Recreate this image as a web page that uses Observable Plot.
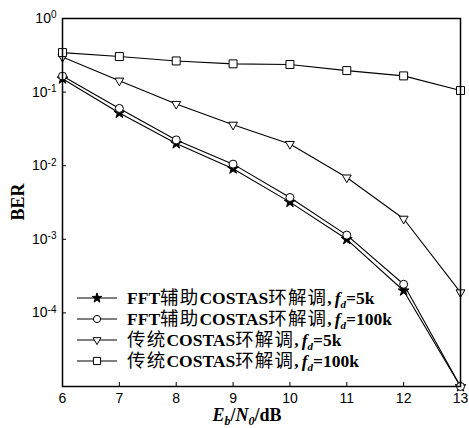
<!DOCTYPE html>
<html>
<head>
<meta charset="utf-8">
<script src="https://cdn.jsdelivr.net/npm/d3@7"></script>
<script src="https://cdn.jsdelivr.net/npm/@observablehq/plot@0.6"></script>
<style>
  html, body { margin: 0; padding: 0; background: #fff; }
  #chart svg { display: block; }
</style>
</head>
<body>
<div id="chart"></div>
<script>
// Eb/N0 (dB) sample points
const snr = [6, 7, 8, 9, 10, 11, 12, 13];

// Bit error rate for each demodulator
const fftFd5k     = [0.152, 0.052, 0.020, 0.0091, 0.0032, 0.0010, 0.00020, 1e-5];
const fftFd100k   = [0.165, 0.060, 0.0224, 0.0105, 0.0037, 0.00114, 0.000245, 1e-5];
const costasFd5k  = [0.300, 0.143, 0.069, 0.036, 0.0197, 0.0069, 0.0019, 0.00019];
const costasFd100k = [0.344, 0.304, 0.265, 0.242, 0.237, 0.196, 0.166, 0.105];

const seriesNames = ["fft5k", "fft100k", "costas5k", "costas100k"];
const seriesValues = [fftFd5k, fftFd100k, costasFd5k, costasFd100k];
const seriesSymbols = ["star", "circle", "triangle", "square"];
const seriesFills = ["black", "white", "white", "white"];
const seriesRadius = [3.4, 4, 3.3, 4.5];
const seriesRotate = [0, 0, 180, 0];
const legendPrefix = ["FFT辅助COSTAS环解调,", "FFT辅助COSTAS环解调,", "传统COSTAS环解调,", "传统COSTAS环解调,"];
const legendSuffix = ["=5k", "=100k", "=5k", "=100k"];

const yTicks = [1, 0.1, 0.01, 0.001, 0.0001];
const xTicks = [6, 7, 8, 9, 10, 11, 12, 13];

const rows = [];
seriesNames.forEach((name, i) => {
  snr.forEach((s, j) => rows.push({series: name, idx: i, snr: s, ber: seriesValues[i][j]}));
});

const serif = "'Liberation Serif', 'Noto Sans CJK SC', serif";
const sans = "'Liberation Sans', Arial, sans-serif";

const marks = [
  Plot.line(rows, {x: "snr", y: "ber", z: "series", stroke: "black", strokeWidth: 1.1})
];
seriesNames.forEach((name, i) => {
  marks.push(Plot.dot(rows.filter(d => d.series === name), {
    x: "snr", y: "ber",
    symbol: seriesSymbols[i],
    r: seriesRadius[i],
    rotate: seriesRotate[i],
    fill: seriesFills[i],
    stroke: "black",
    strokeWidth: 1
  }));
});

const chart = Plot.plot({
  width: 469,
  height: 428,
  marginLeft: 62,
  marginRight: 9,
  marginTop: 18,
  marginBottom: 42,
  style: {fontFamily: sans, fontSize: "14px", color: "black", background: "white"},
  x: {domain: [6, 13]},
  y: {type: "log", domain: [1e-5, 1]},
  marks: [
    ...marks,
    Plot.axisY({ticks: yTicks, tickSize: -4, tickFormat: () => "", label: null}),
    Plot.axisY({ticks: yTicks, tickSize: 0, tickPadding: 6, label: null,
      tickFormat: d => "10^" + Math.round(Math.log10(d)), fontSize: 14}),
    Plot.axisX({ticks: xTicks, tickSize: -4, tickFormat: () => "", label: null}),
    Plot.axisX({ticks: xTicks, tickSize: 0, tickPadding: 7, label: null,
      tickFormat: d => String(d), fontSize: 14}),
    Plot.frame({stroke: "black", strokeWidth: 1.5})
  ]
});

const svg = d3.select(chart);

// Superscript exponents on the y tick labels
svg.selectAll("g[aria-label='y-axis tick label'] text").each(function() {
  const t = d3.select(this);
  const [base, exp] = t.text().split("^");
  t.text(null);
  t.append("tspan").text(base);
  t.append("tspan").attr("dy", "-0.45em").attr("font-size", "10px").text(exp);
});

// Axis titles
svg.append("text")
  .attr("transform", "translate(24,202) rotate(-90)")
  .attr("text-anchor", "middle")
  .attr("font-family", serif)
  .attr("font-weight", "bold")
  .attr("font-size", 18)
  .text("BER");

const xl = svg.append("text")
  .attr("x", 247).attr("y", 421)
  .attr("text-anchor", "middle")
  .attr("font-family", serif)
  .attr("font-weight", "bold")
  .attr("font-size", 18);
xl.append("tspan").attr("font-style", "italic").text("E");
xl.append("tspan").attr("font-style", "italic").attr("font-size", 12).attr("dy", 4).text("b");
xl.append("tspan").attr("dy", -4).text("/");
xl.append("tspan").attr("font-style", "italic").text("N");
xl.append("tspan").attr("font-style", "italic").attr("font-size", 12).attr("dy", 4).text("0");
xl.append("tspan").attr("dy", -4).text("/dB");

// Legend
const legend = svg.append("g")
  .attr("font-family", serif)
  .attr("font-weight", "bold")
  .attr("font-size", 17.5)
  .attr("text-anchor", "start");
seriesNames.forEach((name, i) => {
  const y = 298 + i * 21;
  const g = legend.append("g");
  g.append("line").attr("x1", 77).attr("x2", 117).attr("y1", y).attr("y2", y)
    .attr("stroke", "black").attr("stroke-width", 1);
  const sym = {star: d3.symbolStar, circle: d3.symbolCircle, triangle: d3.symbolTriangle, square: d3.symbolSquare}[seriesSymbols[i]];
  const r = seriesRadius[i] * 0.9;
  g.append("path")
    .attr("d", d3.symbol(sym, r * r * Math.PI)())
    .attr("transform", `translate(97,${y}) rotate(${seriesRotate[i]})`)
    .attr("fill", seriesFills[i]).attr("stroke", "black").attr("stroke-width", 1);
  const t = g.append("text").attr("x", 127).attr("y", y + 6).attr("text-anchor", "start");
  // Chinese runs are set slightly wider and lighter than the Latin runs
  legendPrefix[i].match(/[\u4e00-\u9fff]+|[^\u4e00-\u9fff]+/g).forEach(run => {
    const span = t.append("tspan").text(run);
    if (/[\u4e00-\u9fff]/.test(run)) {
      span.attr("font-size", 18.5).attr("font-weight", "normal").attr("letter-spacing", 1.2);
    }
  });
  t.append("tspan").attr("font-style", "italic").attr("dx", 3).text("f");
  t.append("tspan").attr("font-style", "italic").attr("font-size", 11).attr("dy", 4).text("d");
  t.append("tspan").attr("dy", -4).text(legendSuffix[i]);
});

document.getElementById("chart").appendChild(chart);
</script>
</body>
</html>
